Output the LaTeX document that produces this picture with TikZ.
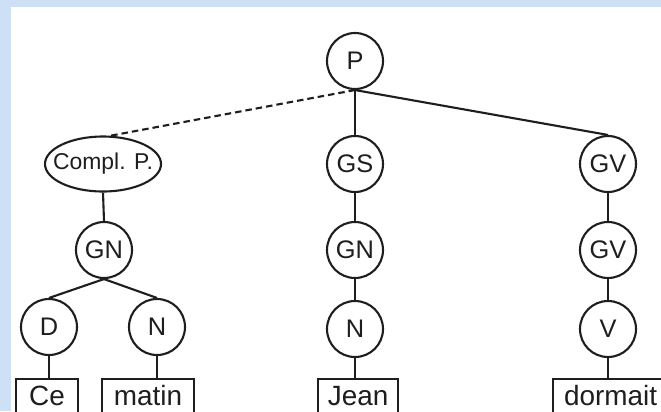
\documentclass[tikz,border=0pt]{standalone}
\usepackage{fontspec}
\setmainfont{Liberation Sans}
\usetikzlibrary{shapes.geometric}
\definecolor{bgblue}{RGB}{205,224,246}
\definecolor{ink}{RGB}{30,30,30}
\begin{document}
\begin{tikzpicture}[x=1bp,y=-1bp,
  cnode/.style={circle,draw=ink,line width=2.1bp,minimum size=56bp,inner sep=0pt,font=\fontsize{25.5}{25.5}\selectfont,text=ink},
  enode/.style={ellipse,draw=ink,line width=2.1bp,minimum width=116bp,minimum height=55bp,inner xsep=-9bp,inner ysep=0pt,font=\fontsize{23}{23}\selectfont,text=ink},
  wbox/.style={draw=ink,line width=2.1bp,anchor=north west,inner xsep=0pt,inner ysep=6bp,text height=20bp,text depth=30bp,font=\fontsize{28}{28}\selectfont,text=ink,align=center},
  edge/.style={draw=ink,line width=2.1bp},
  dashedge/.style={draw=ink,line width=2.1bp,dash pattern=on 6.5bp off 4bp}]
\useasboundingbox (0,0) rectangle (661,411);
\fill[bgblue] (0,0) rectangle (661,411);
\fill[white] (11,7) rectangle (661,411);
\clip (0,0) rectangle (661,411);
% nodes
\node[cnode] (P) at (355,61) {P};
\node[enode] (compl) at (103,164) {Compl. P.};
\node[cnode] (GS) at (355,164) {GS};
\node[cnode] (GVa) at (608,164) {GV};
\node[cnode] (GNa) at (104,250) {GN};
\node[cnode] (GNb) at (355,250) {GN};
\node[cnode] (GVb) at (608,250) {GV};
\node[cnode] (D) at (49,327) {D};
\node[cnode] (Na) at (157,327) {N};
\node[cnode] (Nb) at (355,329) {N};
\node[cnode] (V) at (608,329) {V};
\node[wbox,minimum width=62bp] (ce) at (15,378) {Ce};
\node[wbox,minimum width=92bp] (matin) at (101,378) {matin};
\node[wbox,minimum width=80bp] (jean) at (317,378) {Jean};
\node[wbox,minimum width=115bp] (dormait) at (552,378) {dormait};
% connectors
\draw[dashedge] (P.south) -- (compl.75);
\draw[edge] (P.south) -- (GS.north);
\draw[edge] (P.south) -- (GVa.north);
\draw[edge] (compl.south) -- (GNa.north);
\draw[edge] (GS.south) -- (GNb.north);
\draw[edge] (GVa.south) -- (GVb.north);
\draw[edge] (GNa.south) -- (D.north);
\draw[edge] (GNa.south) -- (Na.north);
\draw[edge] (GNb.south) -- (Nb.north);
\draw[edge] (GVb.south) -- (V.north);
\draw[edge] (D.south) -- (D.south |- ce.north);
\draw[edge] (Na.south) -- (Na.south |- matin.north);
\draw[edge] (Nb.south) -- (Nb.south |- jean.north);
\draw[edge] (V.south) -- (V.south |- dormait.north);
\end{tikzpicture}
\end{document}
